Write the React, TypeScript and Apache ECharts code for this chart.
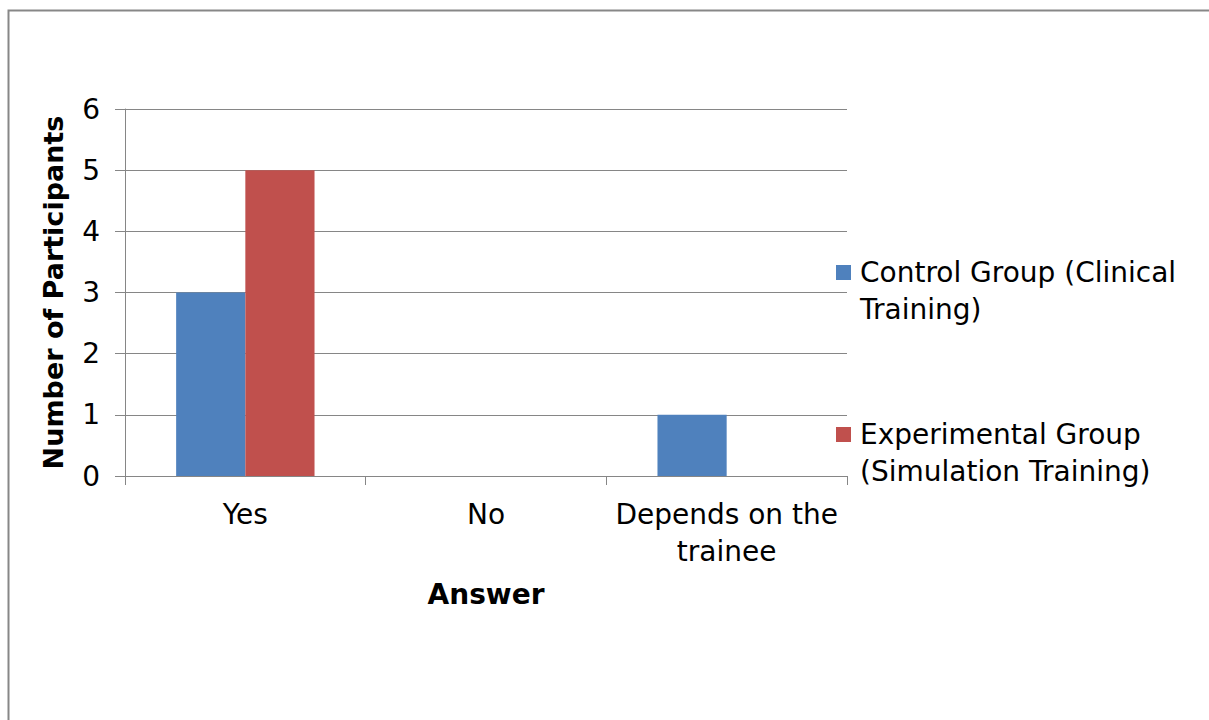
import React, { useEffect, useRef } from "react";
import * as echarts from "echarts";

const categories = ["Yes", "No", "Depends on the\ntrainee"];
const controlValues = [3, 0, 1];
const experimentalValues = [5, 0, 0];
const seriesNames = [
  "Control Group (Clinical\nTraining)",
  "Experimental Group\n(Simulation Training)",
];
const yTicks = { min: 0, max: 6, interval: 1 };

const FONT = "DejaVu Sans, Verdana, sans-serif";
const FS = 28;

export default function App() {
  const ref = useRef<HTMLDivElement>(null);
  useEffect(() => {
    if (!ref.current) return;
    const chart = echarts.init(ref.current, undefined, { renderer: "svg" });
    chart.setOption({
      animation: false,
      backgroundColor: "#ffffff",
      textStyle: { fontFamily: FONT },
      graphic: [
        {
          type: "rect",
          shape: { x: 8.5, y: 10.5, width: 1300, height: 800 },
          style: { fill: "none", stroke: "#878787", lineWidth: 2 },
          silent: true,
          z: -1,
        },
      ],
      grid: { left: 125, top: 109, width: 722, bottom: 244, containLabel: false },
      legend: {
        orient: "vertical",
        left: 836,
        top: 217,
        padding: 0,
        itemWidth: 15,
        itemHeight: 15,
        itemGap: 51,
        icon: "rect",
        selectedMode: false,
        data: seriesNames,
        formatter: (name: string) => " \n" + name,
        textStyle: {
          fontFamily: FONT,
          fontSize: FS,
          color: "#000",
          lineHeight: 37,
          padding: [0, 0, 0, 4],
        },
      },
      xAxis: {
        type: "category",
        data: categories,
        name: "Answer",
        nameLocation: "middle",
        nameGap: 104,
        nameTextStyle: { fontFamily: FONT, fontSize: FS, fontWeight: "bold", color: "#000" },
        axisLine: { lineStyle: { color: "#868686", width: 1 } },
        axisTick: { show: true, length: 9, lineStyle: { color: "#868686" } },
        axisLabel: {
          fontFamily: FONT,
          fontSize: FS,
          color: "#000",
          margin: 20,
          lineHeight: 37,
          interval: 0,
        },
      },
      yAxis: {
        type: "value",
        min: yTicks.min,
        max: yTicks.max,
        interval: yTicks.interval,
        name: "Number of Participants",
        nameLocation: "middle",
        nameGap: 58,
        nameTextStyle: { fontFamily: FONT, fontSize: 27, fontWeight: "bold", color: "#000" },
        axisLine: { show: true, lineStyle: { color: "#868686", width: 1 } },
        axisTick: { show: true, length: 10, lineStyle: { color: "#868686" } },
        splitLine: { show: true, lineStyle: { color: "#868686", width: 1 } },
        axisLabel: { fontFamily: FONT, fontSize: FS, color: "#000", margin: 25 },
      },
      series: [
        {
          name: seriesNames[0],
          type: "bar",
          data: controlValues,
          itemStyle: { color: "#4F81BD" },
          barGap: "0%",
          barCategoryGap: "42.5%",
        },
        {
          name: seriesNames[1],
          type: "bar",
          data: experimentalValues,
          itemStyle: { color: "#C0504D" },
          barGap: "0%",
          barCategoryGap: "42.5%",
        },
      ],
    });
    return () => chart.dispose();
  }, []);
  return (
    <div
      ref={ref}
      style={{ position: "fixed", left: 0, top: 0, width: 1209, height: 720 }}
    />
  );
}
